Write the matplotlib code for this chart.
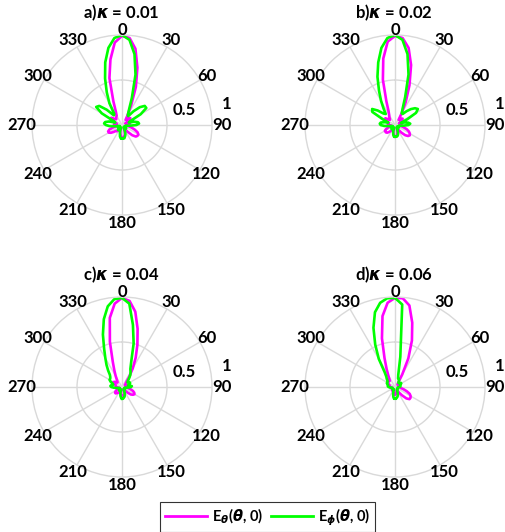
import numpy as np
import matplotlib
matplotlib.use("Agg")
import matplotlib.pyplot as plt
from matplotlib.lines import Line2D

plt.rcParams['font.family'] = ['Lato', 'DejaVu Sans']
plt.rcParams['font.weight'] = 'bold'

# sampled angles (deg, clockwise from top)
ANG = list(range(-180, 185, 5))

titles = [r'a)$\kappa$ = 0.01', r'b)$\kappa$ = 0.02', r'c)$\kappa$ = 0.04', r'd)$\kappa$ = 0.06']
theta_labels = ['0', '30', '60', '90', '120', '150', '180', '210', '240', '270', '300', '330']
r_labels = ['0.5', '1']

E_theta_a = [0.14, 0.13, 0.10, 0.07, 0.04, 0.05, 0.07, 0.08, 0.09, 0.09, 0.12, 0.15, 0.17, 0.17, 0.15,
             0.10, 0.05, 0.06, 0.08, 0.09, 0.08, 0.06, 0.08, 0.12, 0.15, 0.14, 0.10, 0.09, 0.10, 0.11,
             0.12, 0.16, 0.28, 0.54, 0.74, 0.92, 0.99, 0.97, 0.86, 0.66, 0.45, 0.24, 0.12, 0.07, 0.08,
             0.11, 0.12, 0.10, 0.06, 0.04, 0.06, 0.08, 0.09, 0.08, 0.06, 0.05, 0.07, 0.11, 0.15, 0.19,
             0.21, 0.21, 0.20, 0.16, 0.10, 0.05, 0.04, 0.06, 0.09, 0.12, 0.13, 0.14, 0.14]
E_phi_a = [0.15, 0.15, 0.13, 0.09, 0.05, 0.03, 0.05, 0.07, 0.07, 0.05, 0.03, 0.04, 0.05, 0.05, 0.03,
           0.04, 0.08, 0.14, 0.18, 0.20, 0.19, 0.15, 0.08, 0.10, 0.26, 0.35, 0.33, 0.24, 0.14, 0.15,
           0.28, 0.40, 0.55, 0.72, 0.87, 0.97, 1.00, 0.95, 0.80, 0.58, 0.32, 0.18, 0.13, 0.12, 0.20,
           0.28, 0.33, 0.33, 0.24, 0.10, 0.08, 0.14, 0.18, 0.19, 0.16, 0.09, 0.04, 0.04, 0.05, 0.05,
           0.03, 0.04, 0.06, 0.06, 0.04, 0.03, 0.05, 0.08, 0.11, 0.13, 0.15, 0.15, 0.15]
E_theta_b = [0.13, 0.12, 0.10, 0.07, 0.04, 0.04, 0.06, 0.08, 0.10, 0.12, 0.13, 0.13, 0.13, 0.11, 0.08,
             0.05, 0.04, 0.05, 0.07, 0.08, 0.08, 0.07, 0.08, 0.11, 0.13, 0.13, 0.10, 0.08, 0.09, 0.11,
             0.13, 0.17, 0.28, 0.52, 0.75, 0.93, 0.99, 0.97, 0.87, 0.69, 0.47, 0.28, 0.14, 0.07, 0.08,
             0.10, 0.11, 0.10, 0.07, 0.05, 0.06, 0.07, 0.08, 0.07, 0.06, 0.05, 0.07, 0.10, 0.14, 0.17,
             0.19, 0.20, 0.19, 0.16, 0.11, 0.06, 0.04, 0.05, 0.08, 0.10, 0.12, 0.13, 0.13]
E_phi_b = [0.13, 0.13, 0.11, 0.08, 0.04, 0.03, 0.05, 0.06, 0.06, 0.04, 0.03, 0.04, 0.05, 0.04, 0.03,
           0.04, 0.07, 0.12, 0.16, 0.17, 0.16, 0.12, 0.08, 0.15, 0.29, 0.31, 0.25, 0.18, 0.16, 0.22,
           0.31, 0.42, 0.57, 0.72, 0.87, 0.97, 1.00, 0.95, 0.80, 0.58, 0.33, 0.20, 0.15, 0.15, 0.20,
           0.25, 0.29, 0.31, 0.27, 0.15, 0.07, 0.11, 0.15, 0.17, 0.15, 0.09, 0.04, 0.04, 0.05, 0.05,
           0.03, 0.04, 0.05, 0.05, 0.04, 0.03, 0.04, 0.07, 0.10, 0.12, 0.13, 0.13, 0.13]
E_theta_c = [0.10, 0.10, 0.08, 0.05, 0.03, 0.04, 0.06, 0.08, 0.09, 0.10, 0.10, 0.09, 0.07, 0.05, 0.03,
             0.03, 0.04, 0.05, 0.06, 0.07, 0.07, 0.07, 0.08, 0.10, 0.11, 0.10, 0.08, 0.07, 0.08, 0.10,
             0.14, 0.20, 0.30, 0.52, 0.78, 0.93, 0.99, 0.96, 0.85, 0.67, 0.50, 0.36, 0.24, 0.14, 0.08,
             0.06, 0.05, 0.04, 0.04, 0.04, 0.05, 0.06, 0.06, 0.05, 0.04, 0.05, 0.07, 0.10, 0.13, 0.15,
             0.16, 0.15, 0.13, 0.09, 0.05, 0.03, 0.03, 0.05, 0.07, 0.09, 0.10, 0.10, 0.10]
E_phi_c = [0.13, 0.12, 0.10, 0.07, 0.04, 0.03, 0.04, 0.05, 0.05, 0.04, 0.03, 0.03, 0.04, 0.04, 0.03,
           0.04, 0.06, 0.09, 0.12, 0.13, 0.12, 0.10, 0.11, 0.14, 0.16, 0.16, 0.17, 0.19, 0.24, 0.30,
           0.37, 0.47, 0.62, 0.78, 0.91, 0.98, 0.99, 0.93, 0.70, 0.50, 0.30, 0.22, 0.19, 0.16, 0.12,
           0.09, 0.08, 0.09, 0.10, 0.10, 0.08, 0.07, 0.09, 0.11, 0.10, 0.07, 0.04, 0.03, 0.04, 0.04,
           0.03, 0.03, 0.04, 0.04, 0.03, 0.03, 0.04, 0.07, 0.09, 0.11, 0.12, 0.13, 0.13]
E_theta_d = [0.08, 0.09, 0.09, 0.08, 0.06, 0.04, 0.04, 0.05, 0.05, 0.04, 0.03, 0.03, 0.04, 0.04, 0.03,
             0.03, 0.04, 0.05, 0.05, 0.06, 0.06, 0.06, 0.07, 0.08, 0.09, 0.10, 0.10, 0.09, 0.09, 0.11,
             0.15, 0.22, 0.34, 0.56, 0.80, 0.94, 0.99, 0.99, 0.92, 0.74, 0.55, 0.35, 0.16, 0.07, 0.05,
             0.04, 0.04, 0.04, 0.04, 0.04, 0.04, 0.04, 0.04, 0.04, 0.04, 0.05, 0.07, 0.10, 0.14, 0.18,
             0.20, 0.21, 0.21, 0.18, 0.12, 0.07, 0.04, 0.04, 0.05, 0.06, 0.07, 0.08, 0.08]
E_phi_d = [0.13, 0.13, 0.11, 0.08, 0.05, 0.03, 0.03, 0.04, 0.04, 0.03, 0.03, 0.03, 0.03, 0.03, 0.03,
           0.03, 0.04, 0.06, 0.07, 0.08, 0.08, 0.08, 0.09, 0.10, 0.10, 0.10, 0.11, 0.13, 0.15, 0.20,
           0.36, 0.52, 0.70, 0.86, 0.95, 0.99, 0.99, 0.92, 0.34, 0.14, 0.10, 0.10, 0.09, 0.07, 0.06,
           0.06, 0.07, 0.08, 0.08, 0.07, 0.06, 0.06, 0.06, 0.06, 0.05, 0.04, 0.03, 0.03, 0.03, 0.03,
           0.03, 0.03, 0.03, 0.04, 0.04, 0.04, 0.05, 0.07, 0.09, 0.11, 0.12, 0.13, 0.13]

E_theta = [E_theta_a, E_theta_b, E_theta_c, E_theta_d]
E_phi = [E_phi_a, E_phi_b, E_phi_c, E_phi_d]

W, H = 505, 532
fig = plt.figure(figsize=(W / 100, H / 100), dpi=100)

centers = [(122, 125), (395, 125), (122, 387), (395, 387)]
R = 90
GRID = '#d9d9d9'
MAG = '#ff00ff'
GRN = '#00ff00'
FS = 12

th = np.deg2rad(ANG)
for i, (cx, cy) in enumerate(centers):
    ax = fig.add_axes([(cx - R) / W, 1 - (cy + R) / H, 2 * R / W, 2 * R / H], projection='polar')
    ax.set_theta_zero_location('N')
    ax.set_theta_direction(-1)
    ax.set_ylim(0, 1)
    ax.set_rticks([0.5])
    ax.set_yticklabels([])
    ax.set_thetagrids(np.arange(0, 360, 30), [''] * 12)
    ax.grid(True, color=GRID, lw=1.0)
    ax.spines['polar'].set_color(GRID)
    ax.spines['polar'].set_linewidth(1.0)
    ax.set_facecolor('white')
    ax.tick_params(length=0)
    ax.plot(th, E_theta[i], color=MAG, lw=1.9, solid_joinstyle='round')
    ax.plot(th, E_phi[i], color=GRN, lw=1.9, solid_joinstyle='round')
    for k, lab in enumerate(theta_labels):
        ang = k * 30
        if ang == 0:
            rr = 1.06
        elif ang in (90, 270):
            rr = 1.11
        else:
            rr = 1.085
        ax.text(np.deg2rad(ang), rr, lab, ha='center', va='center', fontsize=FS,
                fontweight='bold', clip_on=False)
    ax.text(np.deg2rad(76.5), 0.71, r_labels[0], ha='center', va='center', fontsize=FS,
            fontweight='bold', clip_on=False)
    ax.text(np.deg2rad(78.6), 1.19, r_labels[1], ha='center', va='center', fontsize=FS,
            fontweight='bold', clip_on=False)
    fig.text((cx - 1) / W, 1 - (cy - 112) / H, titles[i], ha='center', va='center', fontsize=FS,
             fontweight='bold')

handles = [Line2D([], [], color=MAG, lw=2), Line2D([], [], color=GRN, lw=2)]
labels = [r'E$_\theta$($\theta$, 0)', r'E$_\phi$($\theta$, 0)']
leg = fig.legend(handles, labels, loc='center', bbox_to_anchor=(267.5 / W, 1 - 517 / H), ncol=2,
                 frameon=True, fancybox=False, edgecolor='black',
                 handlelength=2.9, handletextpad=0.35, columnspacing=0.5, borderpad=0.3,
                 borderaxespad=0.0, prop={'weight': 'bold', 'size': 10.5})
leg.get_frame().set_linewidth(0.8)

fig.savefig('out.png', dpi=100)
